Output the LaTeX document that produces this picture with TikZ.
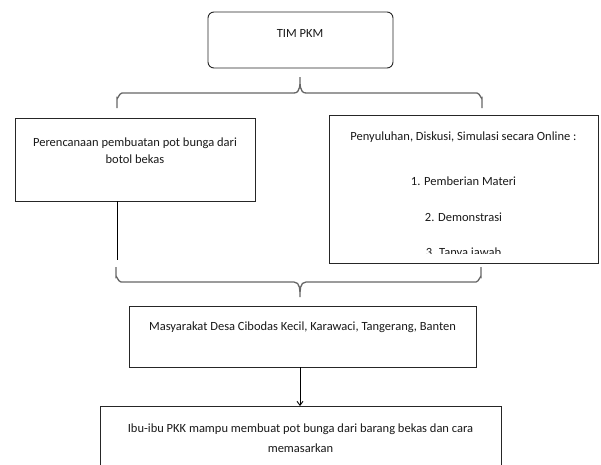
\documentclass[tikz,border=0pt]{standalone}
\usepackage{fontspec}
\setmainfont{Carlito}
\usetikzlibrary{arrows.meta}
\begin{document}
\begin{tikzpicture}[x=1pt,y=-1pt,
  txt/.style={font=\fontsize{12.5}{13}\selectfont,inner sep=0pt,text=black!90},
  box/.style={draw=black!85,line width=0.9pt,inner sep=0pt},
  bracestyle/.style={draw=black!60,line width=1.3pt},
  conn/.style={draw=black,line width=0.9pt}]
\useasboundingbox (0,0) rectangle (601,464);
\clip (0,0) rectangle (601,464);
\fill[white] (0,0) rectangle (601,464);
% TIM PKM
\node[box,rounded corners=6pt,minimum width=185pt,minimum height=56pt] (tim) at (300.5,40) {};
\node[txt] (timtxt) at (300,33) {TIM PKM};
% left box
\node[box,minimum width=240pt,minimum height=83pt] (left) at (135,159.5) {};
\node[txt,align=center] (lefttxt) at (135,151) {Perencanaan pembuatan pot bunga dari\\[4pt]botol bekas};
% right box
\node[box,minimum width=269pt,minimum height=148pt] (right) at (463.5,189) {};
\node[txt] (r1) at (463.5,137) {Penyuluhan, Diskusi, Simulasi secara Online :};
\node[txt] (r2) at (463.5,181) {1. Pemberian Materi};
\node[txt] (r3) at (463.5,217) {2. Demonstrasi};
\begin{scope}
\clip (330,240) rectangle (597,253.5);
\node[txt,anchor=base] (r4) at (463.5,256) {3. Tanya jawab};
\end{scope}
% middle box
\node[box,minimum width=347pt,minimum height=61pt] (mid) at (302.5,336.5) {};
\node[txt] (midtxt) at (302.5,327) {Masyarakat Desa Cibodas Kecil, Karawaci, Tangerang, Banten};
% bottom box (cut by the page edge)
\coordinate (bnw) at (100,406);
\coordinate (bne) at (501,406);
\draw[draw=black!85,line width=0.9pt] (100,480) -- (bnw) -- (bne) -- (501,480);
\node[txt,align=center] (bot) at (300.5,438) {Ibu-ibu PKK mampu membuat pot bunga dari barang bekas dan cara\\[7pt]memasarkan};
% top brace
\coordinate (ttip) at (300,77);
\draw[bracestyle] (117,108) -- (117,98) to[out=-90,in=180] (122,93) -- (294,93) to[out=0,in=-90] (ttip) to[out=-90,in=180] (306,93) -- (477,93) to[out=0,in=-90] (482,98) -- (482,108);
% bottom brace
\coordinate (btip) at (300,297);
\draw[bracestyle] (116,267) -- (116,277) to[out=90,in=180] (121,282) -- (294,282) to[out=0,in=90] (btip) to[out=90,in=180] (306,282) -- (476,282) to[out=0,in=90] (481,277) -- (481,267);
% connector from left box
\coordinate (lb) at (117,260);
\draw[conn] (left.south -| lb) -- (lb);
% arrow
\coordinate (ax) at (300,0);
\draw[conn,-{Straight Barb[length=4pt,width=6pt]}] (mid.south -| ax) -- (bnw -| ax);
\end{tikzpicture}
\end{document}
